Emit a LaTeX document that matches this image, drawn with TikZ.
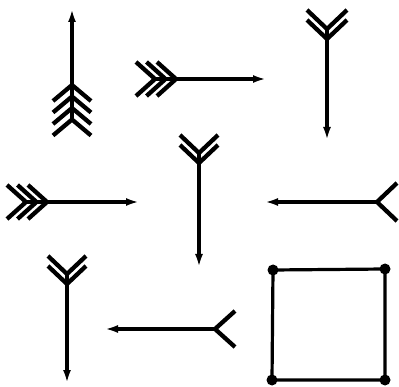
\documentclass[tikz,border=0pt]{standalone}
\usetikzlibrary{arrows.meta}
\begin{document}
\begin{tikzpicture}[
  x=1pt, y=-1pt,
  shaft/.style={line width=3.5pt, -{Latex[length=13pt, width=8pt]}},
  feather/.style={line width=4.3pt, line cap=butt, line join=miter},
  corner/.style={circle, fill=black, inner sep=0pt, minimum size=11pt}
]
  \useasboundingbox (0,0) rectangle (399,387);

  % Arrow up, four feathers
  \coordinate (uptip) at (72,9);
  \coordinate (uptail) at (72,122);
  \draw[shaft] (uptail) -- (uptip);
  \foreach \d in {0,11.5,23,34.5}
    \draw[feather] (72,85) ++(0,\d) ++(-19,16) -- ++(19,-16) -- ++(19,16);

  % Arrow right, three feathers
  \coordinate (righttip) at (266,79);
  \coordinate (righttail) at (155,79);
  \draw[shaft] (righttail) -- (righttip);
  \foreach \d in {0,10.5,21}
    \draw[feather] (righttail) ++(\d,0) ++(-19,-17) -- ++(19,17) -- ++(-19,17);

  % Arrow down, top right
  \coordinate (downtipA) at (327,140);
  \coordinate (downtailA) at (327,29);
  \draw[shaft] (downtailA) -- (downtipA);
  \foreach \d in {0,10}
    \draw[feather] (downtailA) ++(0,\d) ++(-20,-19) -- ++(20,19) -- ++(20,-19);

  % Arrow right, middle left
  \coordinate (righttipB) at (139,202);
  \coordinate (righttailB) at (26,202);
  \draw[shaft] (righttailB) -- (righttipB);
  \foreach \d in {0,10.5,21}
    \draw[feather] (righttailB) ++(\d,0) ++(-19,-17) -- ++(19,17) -- ++(-19,17);

  % Arrow down, centre
  \coordinate (downtipB) at (199,267);
  \coordinate (downtailB) at (199,153);
  \draw[shaft] (downtailB) -- (downtipB);
  \foreach \d in {0,10}
    \draw[feather] (downtailB) ++(0,\d) ++(-19,-18) -- ++(19,18) -- ++(19,-18);

  % Arrow down, bottom left
  \coordinate (downtipC) at (67,383);
  \coordinate (downtailC) at (67,274);
  \draw[shaft] (downtailC) -- (downtipC);
  \foreach \d in {0,10}
    \draw[feather] (downtailC) ++(0,\d) ++(-19,-18) -- ++(19,18) -- ++(19,-18);

  % Arrow left, forked tail
  \coordinate (lefttipA) at (265,202);
  \coordinate (lefttailA) at (377,202);
  \draw[shaft] (lefttailA) -- (lefttipA);
  \draw[feather] (lefttailA) ++(20,-19) -- ++(-20,19) -- ++(20,19);

  % Arrow left, bottom
  \coordinate (lefttipB) at (105,329);
  \coordinate (lefttailB) at (215,329);
  \draw[shaft] (lefttailB) -- (lefttipB);
  \draw[feather] (lefttailB) ++(20,-18) -- ++(-20,18) -- ++(20,18);

  % Square with corner dots
  \node[corner] (sqnw) at (273,270) {};
  \node[corner] (sqne) at (385,269) {};
  \node[corner] (sqse) at (385,380) {};
  \node[corner] (sqsw) at (272,380) {};
  \draw[line width=3.2pt] (sqnw.center) -- (sqne.center) -- (sqse.center) -- (sqsw.center) -- cycle;
\end{tikzpicture}
\end{document}
